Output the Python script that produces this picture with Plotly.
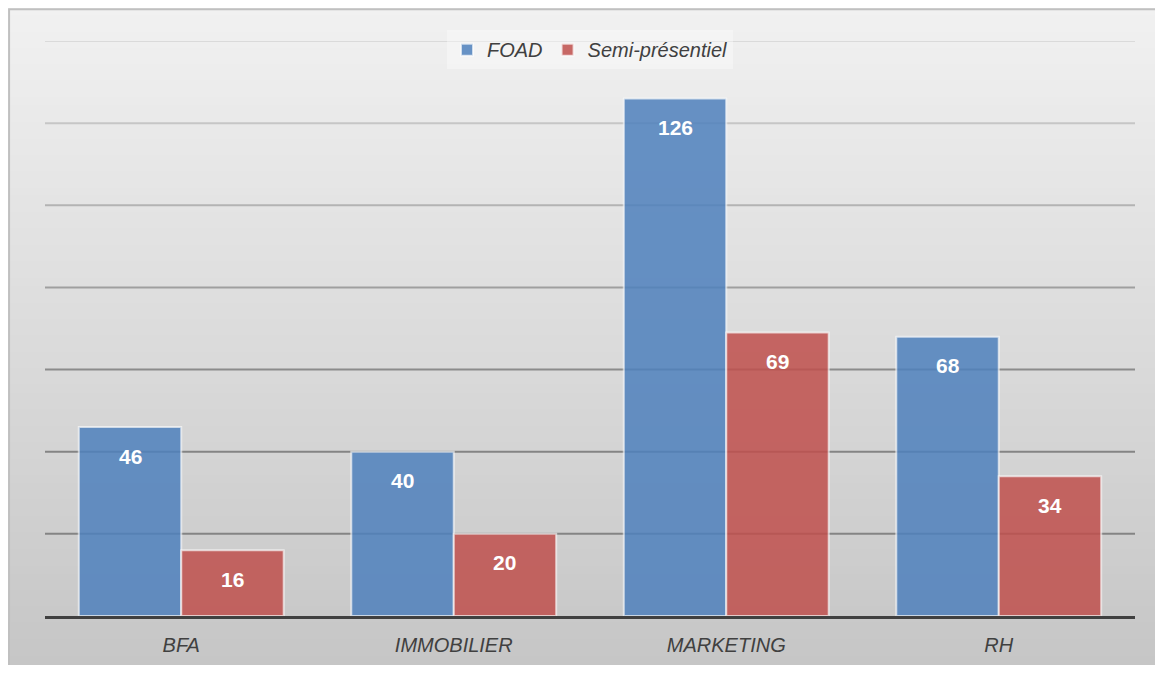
import plotly.graph_objs as go

categories = ["BFA", "IMMOBILIER", "MARKETING", "RH"]
foad = [46, 40, 126, 68]
semi = [16, 20, 69, 34]
series_names = ["FOAD", "Semi-présentiel"]
y_ticks = [0, 20, 40, 60, 80, 100, 120, 140]

FONT = "Liberation Sans Narrow, Arial Narrow, Liberation Sans, Arial, sans-serif"
W, H = 1147, 657
ML, MR, MT, MB = 37, 20, 33, 49
PW, PH = W - ML - MR, H - MT - MB


def mix(c1, c2, t):
    return "rgb(%d,%d,%d)" % tuple(round(a + (b - a) * t) for a, b in zip(c1, c2))


shapes = []
# gradient background in strips
n = 80
y_top = (PH + MT) / PH
y_bot = -MB / PH
x_left = -ML / PW
x_right = (W - ML) / PW
for i in range(n):
    y1 = y_top - (y_top - y_bot) * i / n
    y0 = y_top - (y_top - y_bot) * (i + 1) / n
    shapes.append(dict(type="rect", xref="paper", yref="paper", x0=x_left, x1=x_right,
                       y0=y0 - 0.002, y1=y1 + 0.002,
                       fillcolor=mix((241, 241, 241), (198, 198, 198), i / (n - 1)),
                       line=dict(width=0), layer="below"))

# gridlines, darker towards the bottom
for v in y_ticks[1:]:
    t = 1 - v / y_ticks[-1]
    shapes.append(dict(type="line", xref="paper", yref="y", x0=0, x1=1, y0=v, y1=v,
                       line=dict(color=mix((218, 218, 218), (132, 132, 132), min(1, t * 1.6)), width=2),
                       layer="below"))

# outer border (top and left visible)
shapes.append(dict(type="rect", xref="paper", yref="paper", x0=x_left + 0.001, x1=x_right + 0.01,
                   y0=y_bot - 0.01, y1=y_top - 0.002, line=dict(color="#c0c0c0", width=2),
                   fillcolor="rgba(0,0,0,0)"))

traces = [
    go.Bar(x=categories, y=foad, name=series_names[0], opacity=0.85,
           marker=dict(color="#4f81bd", line=dict(color="rgba(255,255,255,0.7)", width=2))),
    go.Bar(x=categories, y=semi, name=series_names[1], opacity=0.85,
           marker=dict(color="#c0504d", line=dict(color="rgba(255,255,255,0.7)", width=2))),
]

# value labels just under the top of each bar
annotations = []
bar_px = PW / len(categories) * (1 - 0.248) / 2
for values, shift in [(foad, -bar_px / 2), (semi, bar_px / 2)]:
    for c, v in zip(categories, values):
        annotations.append(dict(x=c, y=v, text="<b>%d</b>" % v, showarrow=False,
                                xshift=shift, yshift=-29,
                                font=dict(family=FONT, size=21, color="white")))

layout = go.Layout(
    width=W, height=H,
    margin=dict(l=ML, r=MR, t=MT, b=MB),
    paper_bgcolor="#dcdcdc", plot_bgcolor="rgba(0,0,0,0)",
    barmode="group", bargap=0.248, bargroupgap=0,
    font=dict(family=FONT, size=20, color="#404040"),
    xaxis=dict(showline=True, linecolor="#404040", linewidth=3, ticks="", showgrid=False,
               tickfont=dict(family=FONT, size=20, color="#404040", style="italic"),
               ticklabelstandoff=9, automargin=False),
    yaxis=dict(range=[0, 140], tickvals=y_ticks, showticklabels=False, showgrid=False,
               zeroline=False, automargin=False),
    legend=dict(orientation="h", x=0.5, xanchor="center", y=0.985, yanchor="middle",
                bgcolor="rgba(255,255,255,0.35)",
                font=dict(family=FONT, size=20, color="#404040", style="italic")),
    shapes=shapes, annotations=annotations,
)
fig = go.Figure(data=traces, layout=layout)
fig.write_html("out.html")
